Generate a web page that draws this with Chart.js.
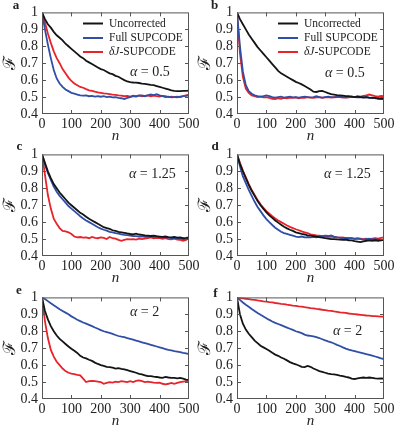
<!DOCTYPE html>
<html>
<head>
<meta charset="utf-8">
<script src="https://cdn.jsdelivr.net/npm/chart.js@4/dist/chart.umd.min.js"></script>
<style>
  body { margin: 0; background: #fff; width: 395px; height: 429px; position: relative; overflow: hidden; }
  .panel { position: absolute; width: 205px; height: 145px; }
</style>
</head>
<body>
<div class="panel" style="left:0;top:0"><canvas id="pa"></canvas></div>
<div class="panel" style="left:195px;top:0"><canvas id="pb"></canvas></div>
<div class="panel" style="left:0;top:142px"><canvas id="pc"></canvas></div>
<div class="panel" style="left:195px;top:142px"><canvas id="pd"></canvas></div>
<div class="panel" style="left:0;top:285px"><canvas id="pe"></canvas></div>
<div class="panel" style="left:195px;top:285px"><canvas id="pf"></canvas></div>
<script>
// n 축 샘플 위치
const N = [0,10,20,30,40,50,60,70,80,90,100,110,120,130,140,150,160,170,180,190,200,
  210,220,230,240,250,260,270,280,290,300,310,320,330,340,350,360,370,380,390,400,
  410,420,430,440,450,460,470,480,490,500];

const LABELS = ['Uncorrected', 'Full SUPCODE', 'δJ-SUPCODE'];
const X_TICKS = [0, 100, 200, 300, 400, 500];
const Y_TICKS = [0.4, 0.5, 0.6, 0.7, 0.8, 0.9, 1];

// a: alpha = 0.5
const uncA = [1,0.96,0.93,0.91,0.885,0.865,0.85,0.835,0.815,0.8,0.785,0.77,0.755,0.74,0.73,0.715,0.705,0.695,0.685,0.675,0.665,
  0.66,0.65,0.64,0.635,0.625,0.62,0.61,0.6,0.592,0.588,0.586,0.585,0.583,0.58,0.578,0.575,0.572,0.57,0.565,0.56,
  0.555,0.55,0.545,0.54,0.537,0.535,0.535,0.537,0.537,0.538];
const fullA = [1,0.9,0.81,0.73,0.66,0.61,0.58,0.56,0.545,0.535,0.525,0.52,0.515,0.51,0.508,0.51,0.505,0.507,0.503,0.505,0.502,
  0.505,0.5,0.503,0.498,0.5,0.495,0.493,0.488,0.495,0.5,0.505,0.503,0.508,0.51,0.505,0.51,0.515,0.512,0.517,0.51,
  0.505,0.5,0.502,0.498,0.5,0.502,0.5,0.505,0.507,0.51];
const djA = [1,0.94,0.875,0.82,0.77,0.73,0.7,0.665,0.64,0.615,0.595,0.58,0.57,0.56,0.555,0.547,0.54,0.537,0.532,0.528,0.525,
  0.522,0.52,0.518,0.515,0.513,0.51,0.508,0.505,0.507,0.503,0.508,0.505,0.51,0.505,0.507,0.51,0.505,0.508,0.505,0.503,
  0.507,0.505,0.5,0.502,0.5,0.498,0.502,0.505,0.51,0.515];

// b: alpha = 0.5
const uncB = [1,0.96,0.93,0.9,0.87,0.845,0.82,0.795,0.775,0.755,0.735,0.715,0.695,0.675,0.655,0.64,0.63,0.62,0.61,0.6,0.59,
  0.583,0.575,0.565,0.555,0.545,0.532,0.53,0.535,0.537,0.53,0.523,0.517,0.515,0.512,0.51,0.508,0.505,0.505,0.503,0.5,
  0.502,0.5,0.498,0.5,0.497,0.495,0.495,0.49,0.49,0.49];
const fullB = [1,0.8,0.65,0.57,0.535,0.52,0.51,0.505,0.503,0.505,0.51,0.505,0.5,0.497,0.5,0.502,0.497,0.5,0.502,0.498,0.5,
  0.497,0.5,0.503,0.5,0.498,0.5,0.505,0.5,0.497,0.5,0.502,0.5,0.498,0.5,0.502,0.5,0.497,0.5,0.502,0.5,
  0.498,0.5,0.497,0.5,0.495,0.497,0.492,0.495,0.49,0.492];
const djB = [1,0.76,0.62,0.55,0.525,0.51,0.505,0.5,0.502,0.498,0.5,0.495,0.49,0.488,0.493,0.49,0.495,0.493,0.497,0.495,0.498,
  0.492,0.497,0.495,0.5,0.497,0.495,0.498,0.5,0.495,0.498,0.5,0.497,0.5,0.502,0.5,0.497,0.5,0.498,0.502,0.5,
  0.505,0.502,0.507,0.51,0.515,0.51,0.505,0.503,0.507,0.505];

// c: alpha = 1.25
const uncC = [1,0.95,0.9,0.86,0.825,0.8,0.775,0.755,0.735,0.715,0.7,0.685,0.67,0.655,0.645,0.632,0.62,0.61,0.6,0.59,0.58,
  0.57,0.565,0.56,0.552,0.548,0.543,0.54,0.537,0.533,0.53,0.528,0.532,0.527,0.525,0.522,0.52,0.518,0.52,0.517,0.515,
  0.513,0.515,0.512,0.51,0.512,0.508,0.51,0.505,0.507,0.51];
const fullC = [1,0.94,0.89,0.85,0.81,0.78,0.755,0.735,0.715,0.695,0.68,0.665,0.65,0.635,0.622,0.61,0.6,0.59,0.58,0.57,0.562,
  0.555,0.55,0.543,0.54,0.535,0.532,0.528,0.525,0.523,0.52,0.518,0.517,0.515,0.516,0.513,0.515,0.512,0.515,0.513,0.51,
  0.512,0.51,0.508,0.505,0.507,0.505,0.502,0.5,0.498,0.505];
const djC = [1,0.88,0.76,0.68,0.62,0.59,0.565,0.548,0.545,0.54,0.53,0.515,0.51,0.512,0.508,0.51,0.505,0.513,0.507,0.505,0.51,
  0.507,0.5,0.512,0.505,0.503,0.495,0.49,0.495,0.5,0.498,0.5,0.497,0.502,0.5,0.503,0.505,0.51,0.505,0.507,0.505,
  0.502,0.505,0.5,0.498,0.502,0.497,0.495,0.49,0.495,0.508];

// d: alpha = 1.25
const uncD = [1,0.945,0.9,0.86,0.82,0.785,0.755,0.725,0.7,0.678,0.658,0.64,0.625,0.61,0.597,0.585,0.573,0.563,0.555,0.548,0.54,
  0.535,0.53,0.527,0.522,0.52,0.518,0.515,0.512,0.508,0.505,0.503,0.5,0.5,0.498,0.497,0.495,0.497,0.493,0.492,0.488,
  0.485,0.482,0.487,0.49,0.492,0.49,0.493,0.49,0.492,0.495];
const fullD = [1,0.93,0.87,0.83,0.79,0.755,0.72,0.69,0.665,0.64,0.618,0.6,0.583,0.567,0.555,0.543,0.535,0.53,0.525,0.52,0.515,
  0.512,0.515,0.51,0.512,0.51,0.513,0.51,0.515,0.518,0.52,0.518,0.522,0.515,0.51,0.508,0.505,0.507,0.503,0.505,0.5,
  0.502,0.5,0.497,0.5,0.502,0.498,0.5,0.497,0.495,0.497];
const djD = [1,0.95,0.905,0.865,0.825,0.79,0.76,0.73,0.705,0.685,0.665,0.65,0.635,0.622,0.61,0.6,0.59,0.58,0.572,0.565,0.558,
  0.552,0.545,0.54,0.535,0.528,0.525,0.522,0.52,0.518,0.515,0.513,0.515,0.512,0.51,0.508,0.51,0.505,0.507,0.505,0.503,
  0.505,0.503,0.5,0.502,0.5,0.503,0.505,0.503,0.507,0.51];

// e: alpha = 2
const uncE = [1,0.92,0.87,0.83,0.8,0.775,0.755,0.74,0.725,0.71,0.697,0.685,0.672,0.655,0.645,0.64,0.632,0.625,0.615,0.607,0.6,
  0.595,0.59,0.588,0.585,0.58,0.582,0.578,0.575,0.57,0.565,0.56,0.555,0.548,0.545,0.54,0.535,0.535,0.532,0.53,0.527,
  0.525,0.53,0.527,0.525,0.525,0.522,0.525,0.52,0.515,0.513];
const fullE = [1,0.99,0.978,0.965,0.953,0.942,0.93,0.92,0.91,0.9,0.888,0.878,0.868,0.86,0.852,0.845,0.838,0.83,0.822,0.815,0.807,
  0.8,0.795,0.79,0.785,0.778,0.772,0.768,0.765,0.76,0.755,0.75,0.745,0.74,0.735,0.73,0.725,0.72,0.715,0.71,0.705,
  0.7,0.695,0.69,0.687,0.683,0.68,0.677,0.673,0.67,0.665];
const djE = [1,0.86,0.76,0.69,0.65,0.62,0.6,0.58,0.565,0.555,0.55,0.547,0.543,0.54,0.52,0.5,0.505,0.507,0.505,0.503,0.5,
  0.49,0.495,0.5,0.497,0.503,0.5,0.505,0.503,0.5,0.505,0.5,0.507,0.51,0.505,0.5,0.503,0.5,0.497,0.495,0.497,
  0.49,0.487,0.49,0.495,0.49,0.495,0.5,0.503,0.505,0.507];

// f: alpha = 2
const uncF = [1,0.9,0.845,0.81,0.785,0.765,0.745,0.73,0.715,0.705,0.695,0.685,0.673,0.662,0.655,0.645,0.638,0.628,0.618,0.61,0.605,
  0.598,0.59,0.588,0.595,0.59,0.58,0.573,0.565,0.56,0.555,0.55,0.547,0.545,0.543,0.538,0.535,0.53,0.527,0.52,0.518,
  0.522,0.525,0.527,0.525,0.527,0.525,0.522,0.52,0.522,0.52];
const fullF = [1,0.985,0.97,0.957,0.945,0.932,0.92,0.908,0.897,0.887,0.877,0.867,0.858,0.85,0.843,0.836,0.829,0.822,0.815,0.808,0.8,
  0.795,0.789,0.78,0.775,0.773,0.77,0.765,0.76,0.753,0.746,0.74,0.735,0.728,0.72,0.713,0.705,0.698,0.692,0.687,0.683,
  0.678,0.674,0.67,0.665,0.661,0.656,0.651,0.646,0.64,0.636];
const djF = [1,0.998,0.995,0.992,0.99,0.987,0.985,0.982,0.98,0.977,0.975,0.972,0.97,0.967,0.965,0.962,0.96,0.957,0.955,0.952,0.95,
  0.947,0.945,0.942,0.94,0.937,0.935,0.932,0.93,0.927,0.925,0.922,0.92,0.917,0.915,0.912,0.91,0.908,0.905,0.903,0.901,
  0.899,0.897,0.895,0.893,0.892,0.89,0.889,0.888,0.887,0.886];

const SERIF = "'Liberation Serif', 'DejaVu Serif', serif";
const COLORS = ['#141414', '#2f4ea6', '#e8232a'];
const TEXT = '#222';

// 패널별 주석 (글자, alpha 라벨 위치 등)
const panels = [
  { id: 'pa', letter: 'a', letterAt: [16, 8.5], alpha: '0.5', alphaAt: [130, 72], legend: true, series: [uncA, fullA, djA] },
  { id: 'pb', letter: 'b', letterAt: [19.5, 8.5], alpha: '0.5', alphaAt: [130, 73], legend: true, series: [uncB, fullB, djB] },
  { id: 'pc', letter: 'c', letterAt: [19.5, 8], alpha: '1.25', alphaAt: [129, 32], legend: false, series: [uncC, fullC, djC] },
  { id: 'pd', letter: 'd', letterAt: [20, 8], alpha: '1.25', alphaAt: [129, 32], legend: false, series: [uncD, fullD, djD] },
  { id: 'pe', letter: 'e', letterAt: [19, 8.5], alpha: '2', alphaAt: [130, 27], legend: false, series: [uncE, fullE, djE] },
  { id: 'pf', letter: 'f', letterAt: [20.5, 11.5], alpha: '2', alphaAt: [138, 46], legend: false, series: [uncF, fullF, djF] }
];

// 테두리, 안쪽 눈금, 패널 글자, 범례 그리기
const decor = {
  id: 'decor',
  afterDraw(chart, args, opts) {
    const ctx = chart.ctx;
    const { left, right, top, bottom } = chart.chartArea;
    const sx = chart.scales.x, sy = chart.scales.y;
    ctx.save();
    ctx.strokeStyle = '#555';
    ctx.lineWidth = 1;
    ctx.strokeRect(left + 0.5, top + 0.5, right - left - 1, bottom - top - 1);
    ctx.beginPath();
    X_TICKS.slice(1, -1).forEach(v => {
      const px = Math.round(sx.getPixelForValue(v)) + 0.5;
      ctx.moveTo(px, bottom); ctx.lineTo(px, bottom - 4);
      ctx.moveTo(px, top); ctx.lineTo(px, top + 4);
    });
    Y_TICKS.slice(1, -1).forEach(v => {
      const py = Math.round(sy.getPixelForValue(v)) + 0.5;
      ctx.moveTo(left, py); ctx.lineTo(left + 4, py);
      ctx.moveTo(right, py); ctx.lineTo(right - 4, py);
    });
    ctx.stroke();

    ctx.fillStyle = TEXT;
    ctx.textAlign = 'center';
    ctx.textBaseline = 'alphabetic';
    ctx.font = 'bold 13px ' + SERIF;
    ctx.fillText(opts.letter, opts.letterAt[0], opts.letterAt[1]);

    ctx.textAlign = 'left';
    ctx.textBaseline = 'middle';
    ctx.font = 'italic 14px ' + SERIF;
    const [ax, ay] = opts.alphaAt;
    ctx.fillText('α', ax, ay);
    const w = ctx.measureText('α').width;
    ctx.font = '14px ' + SERIF;
    ctx.fillText(' = ' + opts.alpha, ax + w, ay);

    if (opts.legend) {
      const rows = [23.5, 38, 52];
      LABELS.forEach((lab, i) => {
        ctx.strokeStyle = COLORS[i];
        ctx.lineWidth = 2;
        ctx.beginPath();
        ctx.moveTo(83, rows[i]); ctx.lineTo(103, rows[i]);
        ctx.stroke();
        if (lab.startsWith('δJ')) {
          ctx.font = 'italic 11.5px ' + SERIF;
          ctx.fillText('δJ', 109, rows[i]);
          const dw = ctx.measureText('δJ').width;
          ctx.font = '11.5px ' + SERIF;
          ctx.fillText(lab.slice(2), 109 + dw, rows[i]);
        } else {
          ctx.font = '11.5px ' + SERIF;
          ctx.fillText(lab, 109, rows[i]);
        }
      });
    }
    ctx.restore();
  }
};

panels.forEach(p => {
  new Chart(document.getElementById(p.id), {
    type: 'line',
    data: {
      datasets: p.series.map((s, i) => ({
        label: LABELS[i],
        data: N.map((n, k) => ({ x: n, y: s[k] })),
        borderColor: COLORS[i],
        borderWidth: 1.8,
        pointRadius: 0,
        tension: 0,
        fill: false
      }))
    },
    options: {
      responsive: true,
      maintainAspectRatio: false,
      animation: false,
      devicePixelRatio: 1,
      layout: { padding: { top: 10, right: 16, left: 0, bottom: 0 } },
      plugins: {
        legend: { display: false },
        tooltip: { enabled: false },
        decor: p
      },
      scales: {
        x: {
          type: 'linear', min: 0, max: 500,
          afterBuildTicks: s => { s.ticks = X_TICKS.map(v => ({ value: v })); },
          ticks: { font: { family: SERIF, size: 14 }, color: TEXT, padding: 2, maxRotation: 0, autoSkip: false },
          grid: { display: false, drawTicks: false },
          border: { display: false },
          title: { display: true, text: 'n', color: TEXT, font: { family: SERIF, size: 15, style: 'italic' }, padding: { top: 0, bottom: 0 } },
          afterFit: s => { s.height = 31; }
        },
        y: {
          min: 0.4, max: 1,
          afterBuildTicks: s => { s.ticks = Y_TICKS.map(v => ({ value: v })); },
          ticks: { font: { family: SERIF, size: 14 }, color: TEXT, padding: 4, autoSkip: false, callback: v => String(Math.round(v * 10) / 10) },
          grid: { display: false, drawTicks: false },
          border: { display: false },
          title: { display: true, text: 'ℱ', color: TEXT, font: { family: SERIF, size: 17 }, padding: { top: 0, bottom: 0 } },
          afterFit: s => { s.width = 42; }
        }
      }
    },
    plugins: [decor]
  });
});
</script>
</body>
</html>
